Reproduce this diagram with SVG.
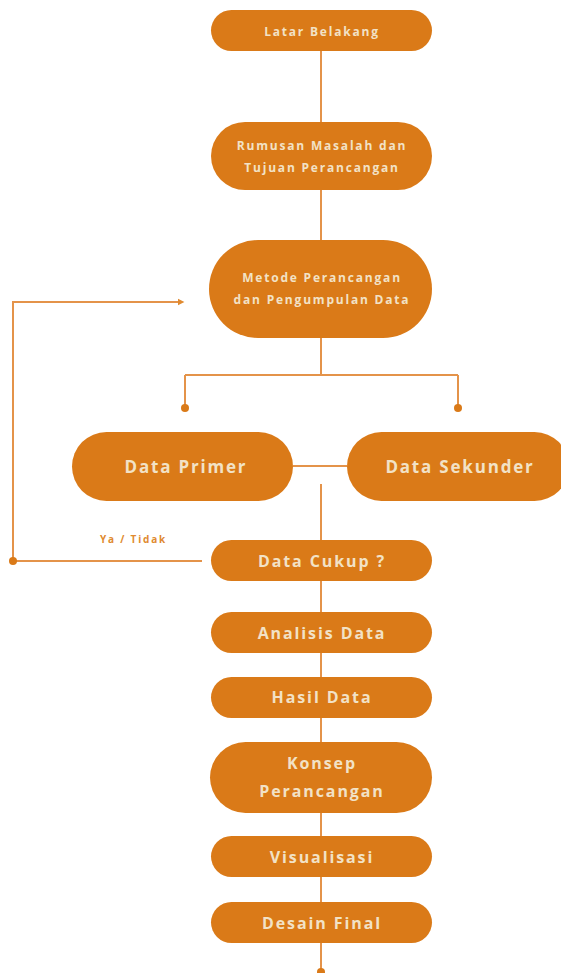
<svg xmlns="http://www.w3.org/2000/svg" width="561" height="973" viewBox="0 0 561 973">
<defs>
<style>
.n{fill:#DA7A18}
.t{fill:#F2E2C6;font-family:"Open Sans","Liberation Sans",sans-serif;font-weight:bold;text-anchor:middle;dominant-baseline:central}
.s{font-size:12px;letter-spacing:1.8px}
.m{font-size:16px;letter-spacing:1.9px}
.l{font-size:17px;letter-spacing:1.8px}
.c{fill:none;stroke:#E4934A;stroke-width:2}
.d{fill:#DA7A18}
.lab{fill:#E08A30;font-family:"Open Sans","Liberation Sans",sans-serif;font-weight:bold;font-size:10px;letter-spacing:1.8px}
</style>
<marker id="ah" viewBox="0 0 10 10" refX="5" refY="5" markerWidth="4" markerHeight="4" orient="auto"><path d="M0,1 L8,5 L0,9 z" fill="#E08A30"/></marker>
</defs>
<g id="connectors">
<path class="c" d="M321,51 V122"/>
<path class="c" d="M321,190 V240"/>
<path class="c" d="M321,338 V375 M185,375 H458 M185,375 V408 M458,375 V408"/>
<circle class="d" cx="185" cy="408" r="4"/>
<circle class="d" cx="458" cy="408" r="4"/>
<path class="c" d="M293,466 H347"/>
<path class="c" d="M321,484 V540"/>
<path class="c" d="M202,561 H13 V302 H182" marker-end="url(#ah)"/>
<circle class="d" cx="13" cy="561" r="4"/>
<path class="c" d="M321,581 V612 M321,653 V677 M321,718 V742 M321,813 V836 M321,877 V902 M321,943 V973"/>
<circle class="d" cx="321" cy="972" r="4"/>
<text class="lab" x="100" y="543">Ya / Tidak</text>
</g>
<g id="latar"><rect class="n" x="211" y="10" width="221" height="41" rx="20.5"/><text class="t s" x="322" y="31">Latar Belakang</text></g>
<g id="rumusan"><rect class="n" x="211" y="122" width="221" height="68" rx="34"/><text class="t s" x="322" y="145">Rumusan Masalah dan</text><text class="t s" x="322" y="167">Tujuan Perancangan</text></g>
<g id="metode"><rect class="n" x="209" y="240" width="223" height="98" rx="49"/><text class="t s" x="322" y="277">Metode Perancangan</text><text class="t s" x="322" y="299">dan Pengumpulan Data</text></g>
<g id="primer"><rect class="n" x="72" y="432" width="221" height="69" rx="34.5"/><text class="t l" x="186" y="466">Data Primer</text></g>
<g id="sekunder"><rect class="n" x="347" y="432" width="222" height="69" rx="34.5"/><text class="t l" x="460" y="466">Data Sekunder</text></g>
<g id="cukup"><rect class="n" x="211" y="540" width="221" height="41" rx="20.5"/><text class="t m" x="322" y="561">Data Cukup ?</text></g>
<g id="analisis"><rect class="n" x="211" y="612" width="221" height="41" rx="20.5"/><text class="t m" x="322" y="633">Analisis Data</text></g>
<g id="hasil"><rect class="n" x="211" y="677" width="221" height="41" rx="20.5"/><text class="t m" x="322" y="697">Hasil Data</text></g>
<g id="konsep"><rect class="n" x="210" y="742" width="222" height="71" rx="35.5"/><text class="t m" x="322" y="763">Konsep</text><text class="t m" x="322" y="791">Perancangan</text></g>
<g id="visualisasi"><rect class="n" x="211" y="836" width="221" height="41" rx="20.5"/><text class="t m" x="322" y="857">Visualisasi</text></g>
<g id="desain"><rect class="n" x="211" y="902" width="221" height="41" rx="20.5"/><text class="t m" x="322" y="923">Desain Final</text></g>
</svg>
